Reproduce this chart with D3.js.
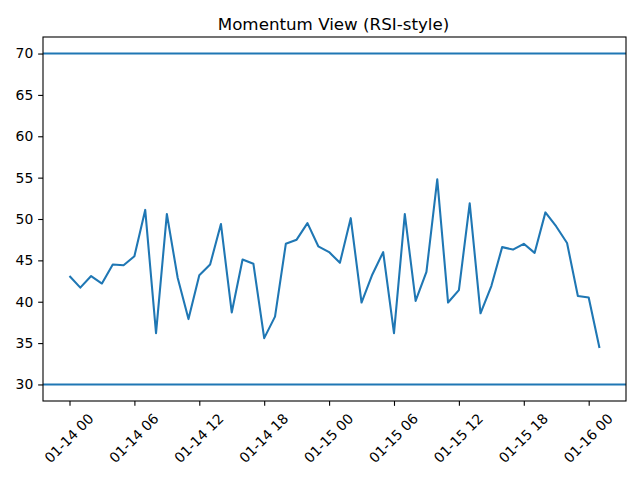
<!DOCTYPE html>
<html><head><meta charset="utf-8">
<script src="https://cdn.jsdelivr.net/npm/d3@7"></script>
<style>body{margin:0;background:#fff}svg{display:block}text{font-family:"DejaVu Sans",sans-serif;fill:#000}</style>
</head><body><svg id="c" width="640" height="480"></svg>
<script>
const startTime = "2024-01-14T00:00:00";
const rsiValues = [43.1,41.7,43.1,42.2,44.5,44.4,45.5,51.1,36.2,50.6,
  42.9,37.9,43.2,44.5,49.4,38.7,45.1,44.6,35.6,38.2,
  47.0,47.5,49.5,46.7,46.0,44.7,50.1,39.9,43.3,46.0,
  36.2,50.6,40.1,43.6,54.8,39.9,41.4,51.9,38.6,41.9,
  46.6,46.3,47.0,45.9,50.8,49.1,47.1,40.7,40.5,34.4];
const levels = [70, 30];
const yTicks = [30,35,40,45,50,55,60,65,70];
const title = "Momentum View (RSI-style)";

const t0 = new Date(startTime);
const data = rsiValues.map((v,i)=>({t:new Date(t0.getTime()+i*3600e3), v}));
const L=43, R=626, T=37, B=401;
const svg = d3.select("#c");
const tEnd = data[data.length-1].t;
const span = tEnd - t0;
const x = d3.scaleTime().domain([new Date(+t0 - span*0.05), new Date(+tEnd + span*0.05)]).range([L,R]);
const y = d3.scaleLinear().domain([28,72]).range([B,T]);
const col = "#1f77b4";

svg.append("g").selectAll("line").data(levels).join("line")
  .attr("x1",L).attr("x2",R).attr("y1",d=>y(d)).attr("y2",d=>y(d))
  .attr("stroke",col).attr("stroke-width",2.08);

svg.append("path").datum(data)
  .attr("d", d3.line().x(d=>x(d.t)).y(d=>y(d.v)))
  .attr("fill","none").attr("stroke",col).attr("stroke-width",2.08).attr("stroke-linejoin","round");

// axes
const fmt = d3.timeFormat("%m-%d %H");
const xTicks = d3.range(0, 49, 6).map(h=>new Date(+t0 + h*3600e3));
const xa = svg.append("g").attr("transform",`translate(0,${B})`)
  .call(d3.axisBottom(x).tickValues(xTicks).tickFormat(fmt).tickSize(4.86).tickPadding(4.86));
xa.select(".domain").remove();
xa.selectAll("text").attr("font-size","13.9px").attr("font-family","DejaVu Sans").attr("fill","#000");
xa.selectAll(".tick line").attr("stroke","#000").attr("stroke-width",1.1);
xa.selectAll(".tick text").each(function(){
  const el = d3.select(this);
  const bb = this.getBBox();
  const w = bb.width, h = bb.height*0.8;
  const rh = (w + h)*Math.SQRT1_2;
  el.attr("y",null).attr("dy",null).attr("text-anchor","middle").attr("dominant-baseline","central")
    .attr("transform",`translate(-1,${10.5 + rh/2}) rotate(-45)`);
});

const ya = svg.append("g").attr("transform",`translate(${L},0)`)
  .call(d3.axisLeft(y).tickValues(yTicks).tickSize(4.86).tickPadding(4.86));
ya.select(".domain").remove();
ya.selectAll("text").attr("font-size","13.9px").attr("font-family","DejaVu Sans").attr("fill","#000");
ya.selectAll(".tick line").attr("stroke","#000").attr("stroke-width",1.1);

svg.append("rect").attr("x",L).attr("y",T).attr("width",R-L).attr("height",B-T)
  .attr("fill","none").attr("stroke","#000").attr("stroke-width",1.1);

svg.append("text").attr("x",(L+R)/2 - 1).attr("y",T-7).attr("text-anchor","middle")
  .attr("font-size","16.7px").text(title);
</script></body></html>
